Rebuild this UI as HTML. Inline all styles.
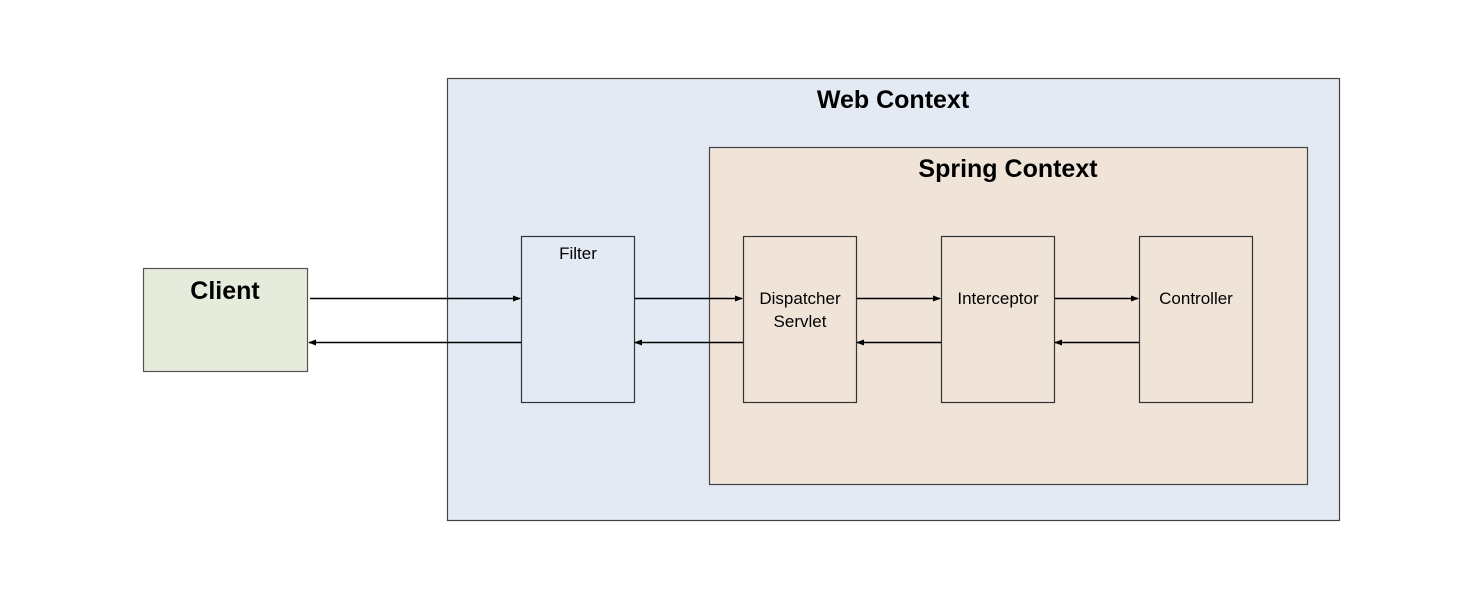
<!DOCTYPE html>
<html><head><style>
body{margin:0;width:1480px;height:600px;background:#fff;overflow:hidden}
</style></head><body>
<svg width="1480" height="600" xmlns="http://www.w3.org/2000/svg" font-family="Liberation Sans, sans-serif">
<defs><marker id="a" markerWidth="8" markerHeight="8" refX="7" refY="4" orient="auto" markerUnits="userSpaceOnUse"><path d="M0,1 L8,4 L0,7 z" fill="#000"/></marker></defs>
<rect x="447.5" y="78.5" width="892" height="442" fill="#e3eaf4" stroke="#444" stroke-width="1.2"/>
<text x="893" y="108" font-size="25" font-weight="bold" text-anchor="middle">Web Context</text>
<rect x="709.5" y="147.5" width="598" height="337" fill="#f0e4d9" stroke="#444" stroke-width="1.2"/>
<text x="1008" y="177" font-size="25" font-weight="bold" text-anchor="middle">Spring Context</text>
<rect x="143.5" y="268.5" width="164" height="103" fill="#e6ecdb" stroke="#555" stroke-width="1.2"/>
<text x="225" y="299" font-size="25" font-weight="bold" text-anchor="middle">Client</text>
<rect x="521.5" y="236.5" width="113" height="166" fill="#e3eaf4" stroke="#333" stroke-width="1.2"/>
<text x="578" y="259" font-size="17" text-anchor="middle">Filter</text>
<rect x="743.5" y="236.5" width="113" height="166" fill="#f0e4d9" stroke="#333" stroke-width="1.2"/>
<text x="800" y="304" font-size="17" text-anchor="middle">Dispatcher</text>
<text x="800" y="327" font-size="17" text-anchor="middle">Servlet</text>
<rect x="941.5" y="236.5" width="113" height="166" fill="#f0e4d9" stroke="#333" stroke-width="1.2"/>
<text x="998" y="304" font-size="17" text-anchor="middle">Interceptor</text>
<rect x="1139.5" y="236.5" width="113" height="166" fill="#f0e4d9" stroke="#333" stroke-width="1.2"/>
<text x="1196" y="304" font-size="17" text-anchor="middle">Controller</text>
<g stroke="#000" stroke-width="1.6">
<line x1="310" y1="298.5" x2="520" y2="298.5" marker-end="url(#a)"/>
<line x1="521" y1="342.5" x2="309" y2="342.5" marker-end="url(#a)"/>
<line x1="635" y1="298.5" x2="742" y2="298.5" marker-end="url(#a)"/>
<line x1="743" y1="342.5" x2="635" y2="342.5" marker-end="url(#a)"/>
<line x1="857" y1="298.5" x2="940" y2="298.5" marker-end="url(#a)"/>
<line x1="941" y1="342.5" x2="857" y2="342.5" marker-end="url(#a)"/>
<line x1="1055" y1="298.5" x2="1138" y2="298.5" marker-end="url(#a)"/>
<line x1="1139" y1="342.5" x2="1055" y2="342.5" marker-end="url(#a)"/>
</g>
</svg>
</body></html>
